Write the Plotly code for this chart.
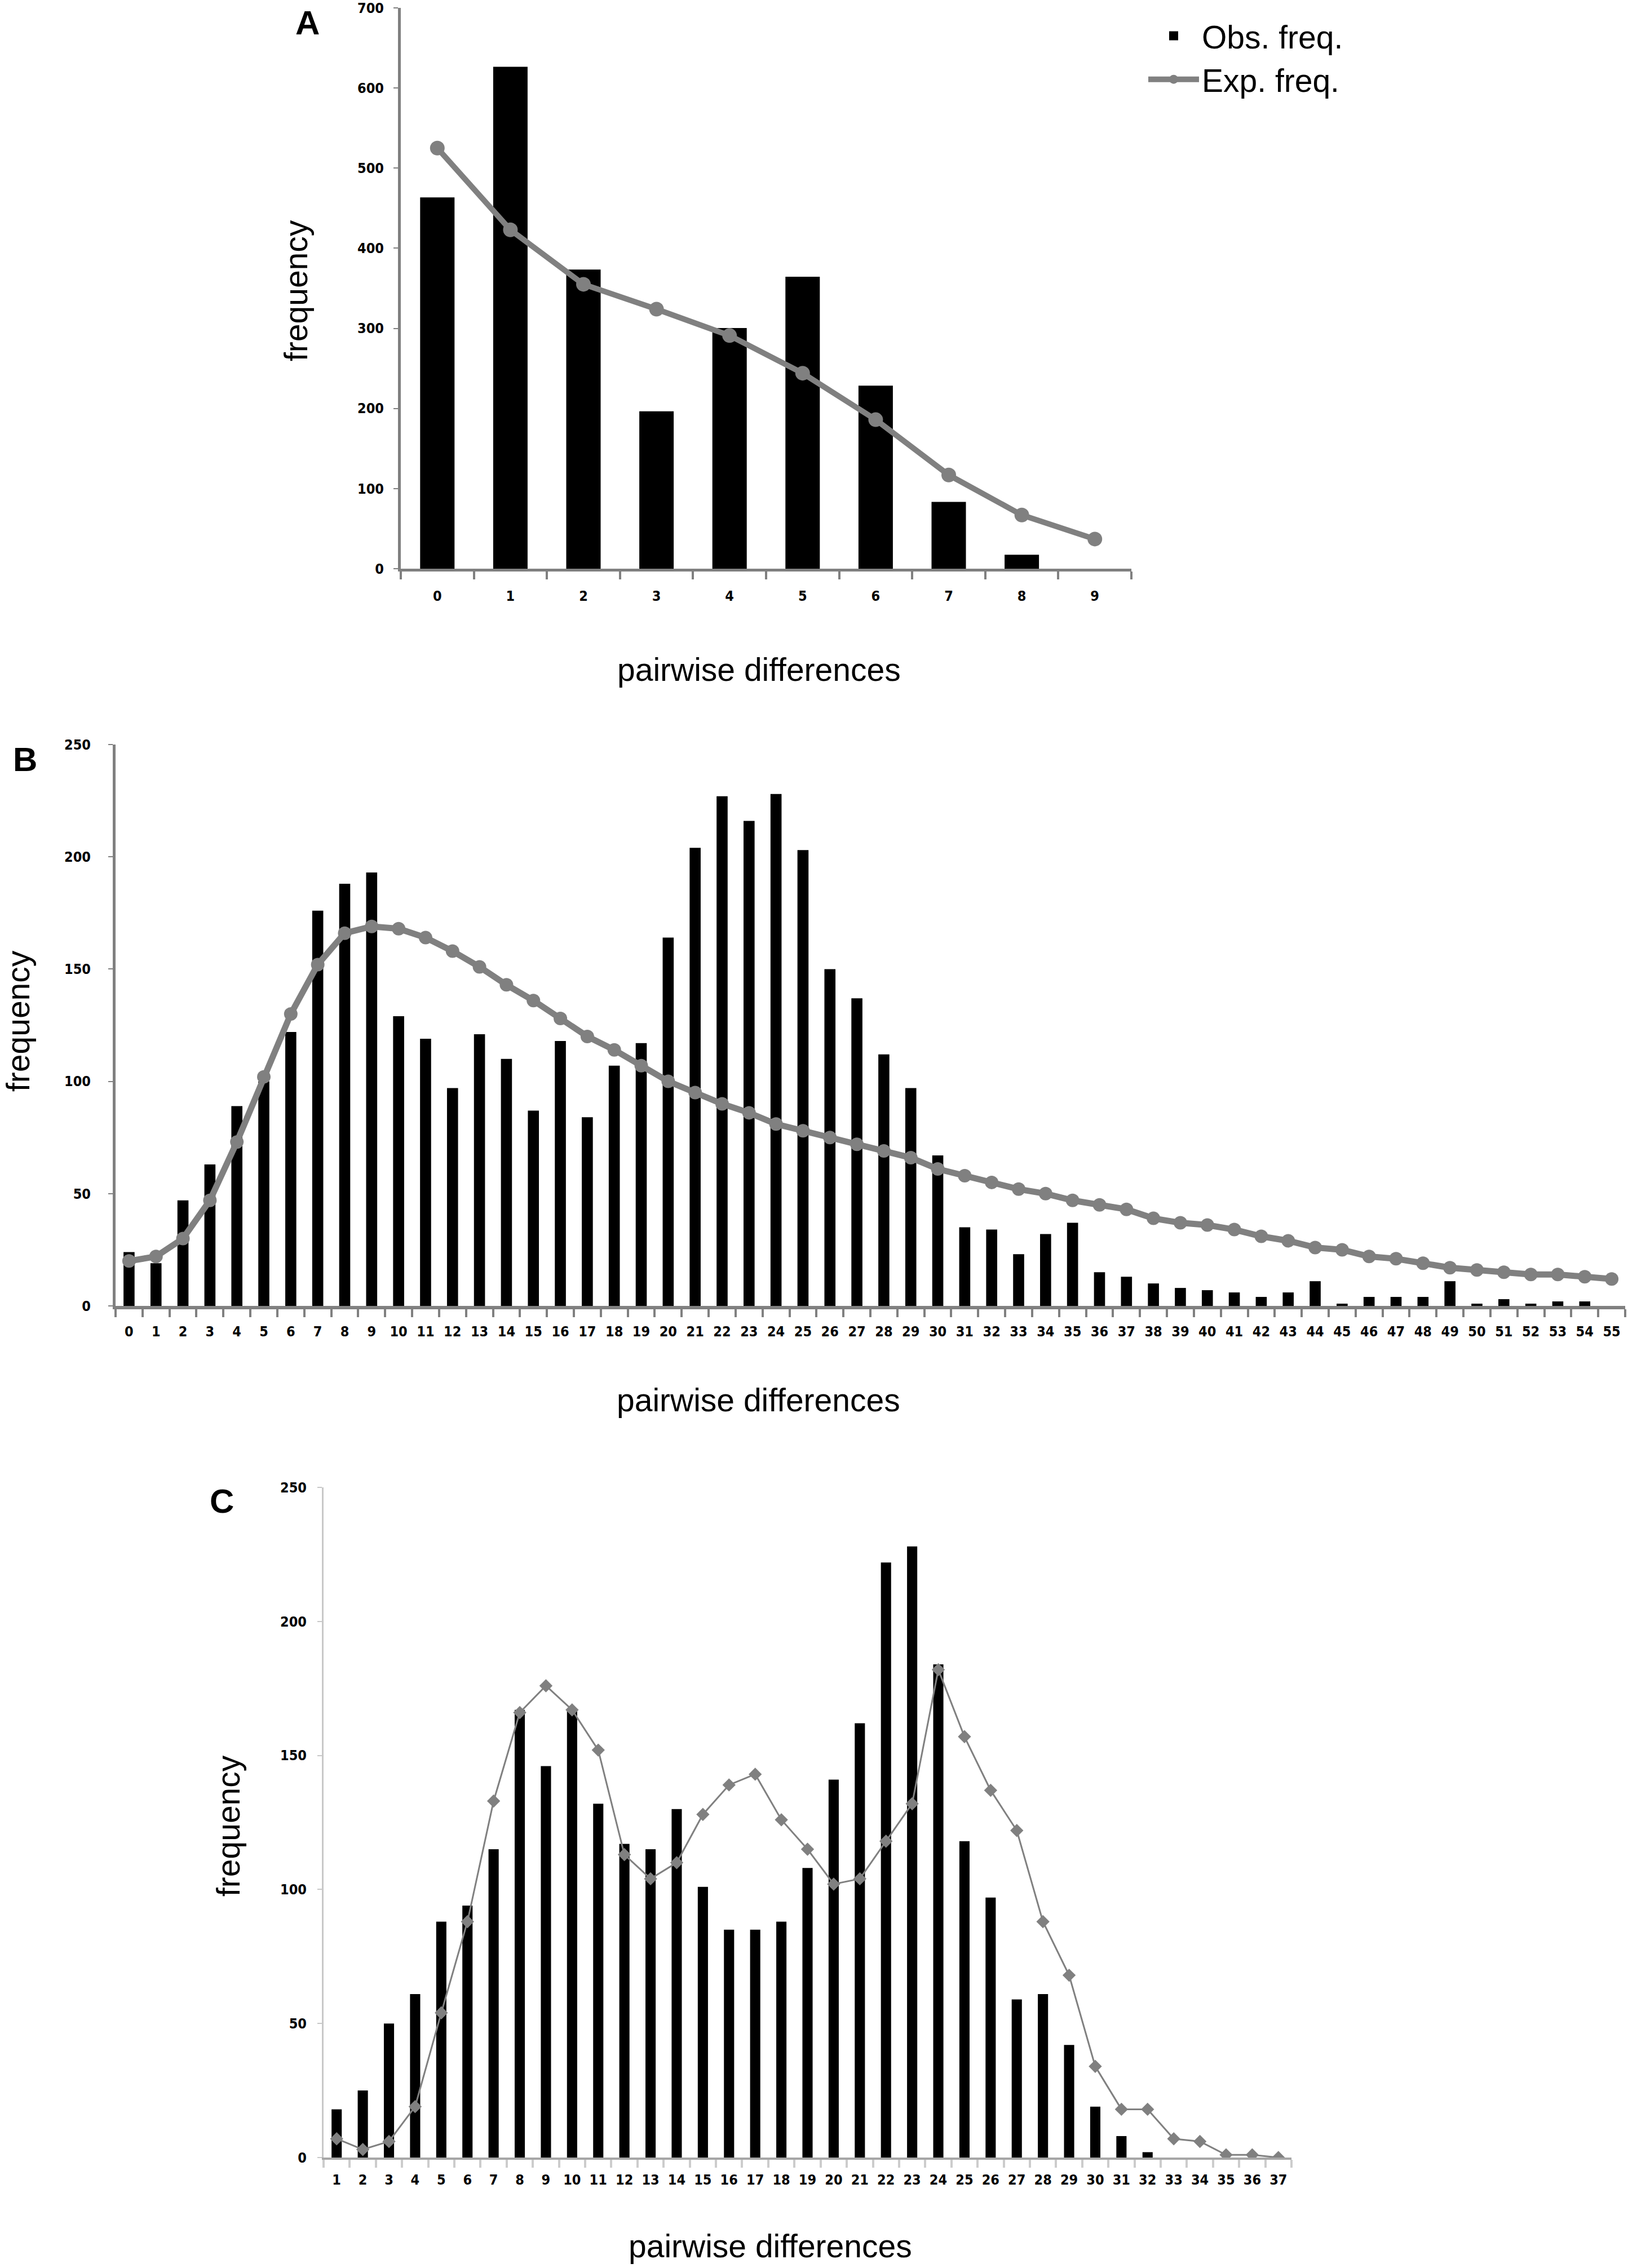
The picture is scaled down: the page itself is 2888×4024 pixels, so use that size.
import plotly.graph_objects as go

# ---------------- data ----------------
a_cats = [str(i) for i in range(0, 10)]
a_obs = [462, 625, 372, 195, 299, 363, 227, 82, 16, None]
a_exp = [525, 423, 355, 324, 291, 244, 186, 117, 67, 37]

b_cats = [str(i) for i in range(0, 56)]
b_obs = [24, 19, 47, 63, 89, 100, 122, 176, 188, 193,
         129, 119, 97, 121, 110, 87, 118, 84, 107, 117,
         164, 204, 227, 216, 228, 203, 150, 137, 112, 97,
         67, 35, 34, 23, 32, 37, 15, 13, 10, 8,
         7, 6, 4, 6, 11, 1, 4, 4, 4, 11,
         1, 3, 1, 2, 2, 0]
b_exp = [20, 22, 30, 47, 73, 102, 130, 152, 166, 169,
         168, 164, 158, 151, 143, 136, 128, 120, 114, 107,
         100, 95, 90, 86, 81, 78, 75, 72, 69, 66,
         61, 58, 55, 52, 50, 47, 45, 43, 39, 37,
         36, 34, 31, 29, 26, 25, 22, 21, 19, 17,
         16, 15, 14, 14, 13, 12]

c_cats = [str(i) for i in range(1, 38)]
c_obs = [18, 25, 50, 61, 88, 94, 115, 167, 146, 167,
         132, 117, 115, 130, 101, 85, 85, 88, 108, 141,
         162, 222, 228, 184, 118, 97, 59, 61, 42, 19,
         8, 2, 0, 0, 0, 0, 0]
c_exp = [7, 3, 6, 19, 54, 88, 133, 166, 176, 167,
         152, 113, 104, 110, 128, 139, 143, 126, 115, 102,
         104, 118, 132, 182, 157, 137, 122, 88, 68, 34,
         18, 18, 7, 6, 1, 1, 0]

a_yticks = [0, 100, 200, 300, 400, 500, 600, 700]
bc_yticks = [0, 50, 100, 150, 200, 250]

legend_names = ["Obs. freq.", "Exp. freq."]
axis_title_x = "pairwise differences"
axis_title_y = "frequency"

# ---------------- style ----------------
W, H = 2888, 4024
GRAY = "#808080"
TICKFONT = dict(family="Liberation Sans Narrow, DejaVu Sans Condensed, Arial Narrow, sans-serif",
                size=25, color="black", weight="bold")
LABELFONT = dict(family="Liberation Sans, Arial, sans-serif", size=57, color="black")
PANELFONT = dict(family="Liberation Sans, Arial, sans-serif", size=60, color="black", weight="bold")


def px_x(p):
    return p / W


def px_y(p):
    return 1 - p / H


fig = go.Figure()

# Panel A
fig.add_trace(go.Bar(x=a_cats, y=a_obs, width=0.44, marker=dict(color="black", line=dict(width=4, color="black")),
                     name=legend_names[0], xaxis="x", yaxis="y", showlegend=True))
fig.add_trace(go.Scatter(x=a_cats, y=a_exp, mode="lines+markers", name=legend_names[1],
                         line=dict(color=GRAY, width=10),
                         marker=dict(symbol="circle", size=26, color=GRAY),
                         xaxis="x", yaxis="y", showlegend=True))
# Panel B
fig.add_trace(go.Bar(x=b_cats, y=b_obs, width=0.41, marker=dict(color="black", line=dict(width=0)),
                     xaxis="x2", yaxis="y2", showlegend=False))
fig.add_trace(go.Scatter(x=b_cats, y=b_exp, mode="lines+markers",
                         line=dict(color=GRAY, width=11),
                         marker=dict(symbol="circle", size=24, color=GRAY),
                         xaxis="x2", yaxis="y2", showlegend=False))
# Panel C
fig.add_trace(go.Bar(x=c_cats, y=c_obs, width=0.39, marker=dict(color="black", line=dict(width=0)),
                     xaxis="x3", yaxis="y3", showlegend=False))
fig.add_trace(go.Scatter(x=c_cats, y=c_exp, mode="lines+markers",
                         line=dict(color=GRAY, width=3),
                         marker=dict(symbol="diamond", size=18, color=GRAY),
                         xaxis="x3", yaxis="y3", showlegend=False))


def xax(domain, anchor, ncat, lcolor, lwidth, tcolor, standoff):
    return dict(domain=domain, anchor=anchor, type="category", automargin=False,
                range=[-0.5, ncat - 0.5], autorange=False,
                showline=True, linecolor=lcolor, linewidth=lwidth,
                ticks="outside", tickson="boundaries", ticklen=14, tickwidth=4, tickcolor=tcolor,
                showgrid=False, zeroline=False, tickfont=TICKFONT, tickangle=0,
                ticklabelstandoff=standoff, ticklabeloverflow="allow", fixedrange=True)


def yax(domain, anchor, rng, ticks, lcolor, lwidth, standoff):
    return dict(domain=domain, anchor=anchor, range=rng, tickvals=ticks, automargin=False,
                showline=True, linecolor=lcolor, linewidth=lwidth,
                ticks="outside", ticklen=8, tickwidth=2, tickcolor=lcolor,
                showgrid=False, zeroline=False, tickfont=TICKFONT,
                ticklabelstandoff=standoff, ticklabeloverflow="allow", fixedrange=True)


fig.update_layout(
    width=W, height=H,
    margin=dict(l=0, r=0, t=0, b=0, autoexpand=False),
    paper_bgcolor="white", plot_bgcolor="white",
    barmode="overlay",
    xaxis=xax([px_x(711), px_x(2007)], "y", len(a_cats), GRAY, 5, GRAY, 22),
    yaxis=yax([px_y(1009), px_y(14)], "x", [0, 700], a_yticks, GRAY, 5, 12),
    xaxis2=xax([px_x(205), px_x(2883)], "y2", len(b_cats), GRAY, 6, GRAY, 18),
    yaxis2=yax([px_y(2317), px_y(1321)], "x2", [0, 250], bc_yticks, GRAY, 5, 26),
    xaxis3=xax([px_x(574), px_x(2291)], "y3", len(c_cats), "#a6a6a6", 4, "#cccccc", 14),
    yaxis3=yax([px_y(3828), px_y(2639)], "x3", [0, 250], bc_yticks, "#c8c8c8", 3, 14),
    legend=dict(x=px_x(2032), y=px_y(20), xanchor="left", yanchor="top",
                font=dict(family="Liberation Sans, Arial, sans-serif", size=57, color="black"),
                bgcolor="rgba(0,0,0,0)", itemwidth=90, tracegroupgap=0),
)

annots = [
    ("frequency", 525, 516, -90, LABELFONT),
    (axis_title_x, 1346, 1188, 0, LABELFONT),
    ("A", 545, 40, 0, PANELFONT),
    ("frequency", 32, 1812, -90, LABELFONT),
    (axis_title_x, 1345, 2484, 0, LABELFONT),
    ("B", 44, 1347, 0, PANELFONT),
    ("frequency", 405, 3240, -90, LABELFONT),
    (axis_title_x, 1366, 3985, 0, LABELFONT),
    ("C", 393, 2663, 0, PANELFONT),
]
for text, x, y, ang, font in annots:
    fig.add_annotation(text=text, x=px_x(x), y=px_y(y), xref="paper", yref="paper",
                       xanchor="center", yanchor="middle", showarrow=False,
                       textangle=ang, font=font)

fig.write_html("out.html", config={"displayModeBar": False},
               post_script="document.body.style.margin='0';")
